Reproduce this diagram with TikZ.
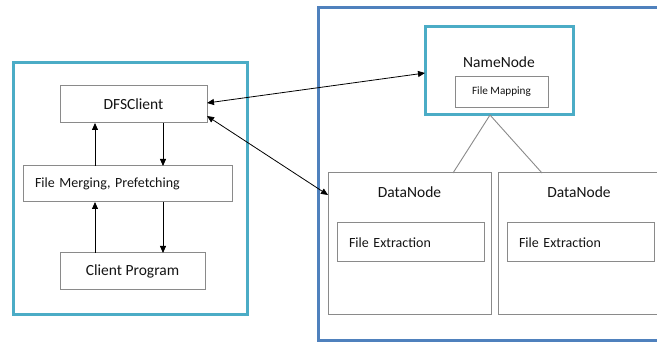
\documentclass[tikz,border=0pt]{standalone}
\usepackage{fontspec}
\setmainfont{Carlito}
\usetikzlibrary{arrows.meta,calc}

\definecolor{frameteal}{HTML}{4BACC6}
\definecolor{frameblue}{HTML}{4F81BD}
\definecolor{boxgray}{HTML}{8A8A8A}
\definecolor{textgray}{HTML}{141414}

\begin{document}
\begin{tikzpicture}[x=1pt,y=-1pt,
  tealframe/.style={draw=frameteal,line width=3pt,rectangle,inner sep=0pt,outer sep=0pt},
  blueframe/.style={draw=frameblue,line width=3pt,rectangle,inner sep=0pt,outer sep=0pt},
  plainbox/.style={draw=boxgray,line width=1pt,rectangle,inner sep=0pt,outer sep=0pt,
    text=textgray,font=\fontsize{15.5}{17}\selectfont},
  leftbox/.style={plainbox,inner xsep=12pt,align=left,font=\fontsize{14}{16}\selectfont},
  heading/.style={text=textgray,font=\fontsize{15.5}{17}\selectfont,inner sep=0pt},
  flow/.style={draw=black,line width=0.8pt,-{Triangle[length=7pt,width=6pt]}},
  link/.style={draw=black,line width=0.8pt,{Triangle[length=7pt,width=6pt]}-{Triangle[length=7pt,width=6pt]}},
  tree/.style={draw=boxgray,line width=0.9pt}]

\useasboundingbox (0,0) rectangle (657,342);
\clip (0,0) rectangle (657,342);
\fill[white] (0,0) rectangle (657,342);

% client side
\node[tealframe,minimum width=234pt,minimum height=252pt] (client) at (130,189) {};
\node[plainbox,minimum width=147pt,minimum height=37pt] (dfs) at (133.5,104.5) {DFSClient};
\node[leftbox,text width=185pt,minimum height=36pt] (merge) at (127.5,184) {File Merging, Prefetching};
\node[plainbox,minimum width=145pt,minimum height=37pt] (prog) at (132.5,271.5) {Client Program};

\coordinate (upx) at (95,0);
\coordinate (downx) at (163,0);
\draw[flow] (merge.north -| upx) -- (dfs.south -| upx);
\draw[flow] (dfs.south -| downx) -- (merge.north -| downx);
\draw[flow] (prog.north -| upx) -- (merge.south -| upx);
\draw[flow] (merge.south -| downx) -- (prog.north -| downx);

% cluster side
\node[blueframe,minimum width=362pt,minimum height=332pt] (cluster) at (499,174) {};
\node[tealframe,minimum width=148pt,minimum height=88pt] (nn) at (499,71) {};
\node[heading] (nntitle) at (499,62) {NameNode};
\node[plainbox,line width=0.9pt,minimum width=93pt,minimum height=31pt,
      font=\fontsize{11.2}{13}\selectfont] (map) at (501.5,91.5) {File Mapping};

\node[plainbox,minimum width=163pt,minimum height=142pt] (dn1) at (409.5,244) {};
\node[plainbox,minimum width=162pt,minimum height=142pt] (dn2) at (579,244) {};
\node[heading] (dn1title) at (409.5,192) {DataNode};
\node[heading] (dn2title) at (579,192) {DataNode};
\node[leftbox,text width=123pt,minimum height=39pt] (ext1) at (410.5,242.5) {File Extraction};
\node[leftbox,text width=123pt,minimum height=39pt] (ext2) at (580.5,242.5) {File Extraction};

% NameNode to DataNodes
\coordinate (nnfoot) at (490,115);
\coordinate (leftfoot) at (453,0);
\coordinate (rightfoot) at (542,0);
\draw[tree] (nnfoot) -- (dn1.north -| leftfoot);
\draw[tree] (nnfoot) -- (dn2.north -| rightfoot);

% client to cluster links
\draw[link] ([yshift=1.5pt]dfs.east) -- ([yshift=-2pt]nn.west);
\draw[link] ([yshift=-11.5pt]dfs.east) -- ([yshift=-22pt]dn1.north west);
\end{tikzpicture}
\end{document}
